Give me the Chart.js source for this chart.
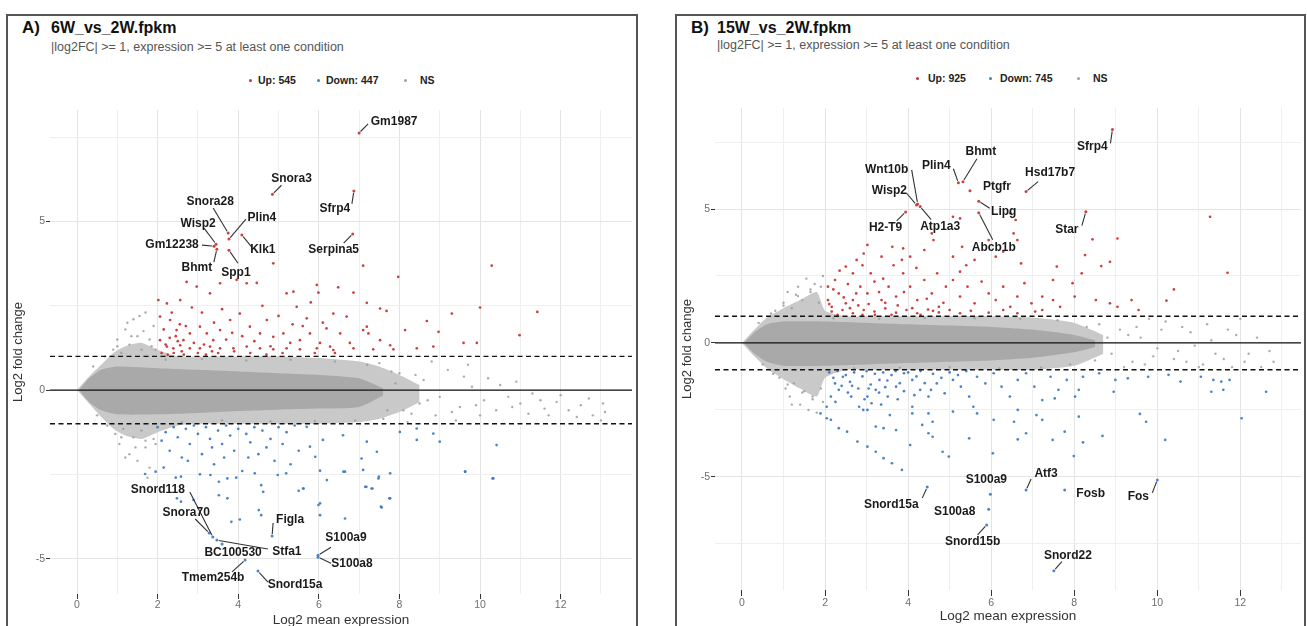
<!DOCTYPE html>
<html><head><meta charset="utf-8">
<script src="https://cdn.jsdelivr.net/npm/chart.js@4.4.1/dist/chart.umd.min.js"></script>
<style>
html,body{margin:0;padding:0;width:1307px;height:626px;overflow:hidden;background:#fff;font-family:"Liberation Sans",Arial,sans-serif;}
.panel{position:absolute;top:14px;height:700px;border:2px solid #555;box-sizing:border-box;}
.t{position:absolute;white-space:nowrap;color:#111;}
.tag{font-weight:bold;font-size:17px;line-height:17px;}
.ttl{font-weight:bold;font-size:16px;line-height:16px;}
.sub{font-size:12.5px;line-height:13px;color:#555;}
.lg{font-weight:bold;font-size:10.5px;line-height:11px;color:#222;}
.dot{position:absolute;width:3px;height:3px;border-radius:50%;}
canvas{position:absolute;}
</style></head><body>
<div class="panel" style="left:6px;width:632px"></div>
<div class="panel" style="left:675px;width:631px"></div>

<div class="t tag" style="left:22px;top:19px">A)</div>
<div class="t ttl" style="left:51px;top:20px">6W_vs_2W.fpkm</div>
<div class="t sub" style="left:51px;top:41px">|log2FC| &gt;= 1, expression &gt;= 5 at least one condition</div>
<div class="dot" style="left:249px;top:79px;background:#c83232"></div>
<div class="t lg" style="left:258px;top:75px">Up: 545</div>
<div class="dot" style="left:317px;top:79px;background:#417dc3"></div>
<div class="t lg" style="left:326px;top:75px">Down: 447</div>
<div class="dot" style="left:404px;top:79px;background:#a0a0a0"></div>
<div class="t lg" style="left:420px;top:75px">NS</div>

<div class="t tag" style="left:691px;top:19px">B)</div>
<div class="t ttl" style="left:717px;top:20px">15W_vs_2W.fpkm</div>
<div class="t sub" style="left:717px;top:39px">|log2FC| &gt;= 1, expression &gt;= 5 at least one condition</div>
<div class="dot" style="left:916px;top:77px;background:#c83232"></div>
<div class="t lg" style="left:928px;top:73px">Up: 925</div>
<div class="dot" style="left:989px;top:77px;background:#417dc3"></div>
<div class="t lg" style="left:1000px;top:73px">Down: 745</div>
<div class="dot" style="left:1077px;top:77px;background:#a0a0a0"></div>
<div class="t lg" style="left:1093px;top:73px">NS</div>

<canvas id="cA" width="628" height="546" style="left:8px;top:90px"></canvas>
<canvas id="cB" width="628" height="546" style="left:677px;top:90px"></canvas>

<script>
// ---------------- DATA: shared ----------------
const xTicks = [0,1,2,3,4,5,6,7,8,9,10,11,12,13];
const yTicks = [-7.5,-5,-2.5,0,2.5,5,7.5];
const thresholds = [1,-1];
const zeroLine = 0;

// ---------------- DATA: panel A (6W vs 2W) ----------------
const A_envX    = [0, 0.3, 0.6, 0.9, 1.2, 1.6, 2.0, 2.5, 3, 4, 5, 6, 7, 7.5, 8, 8.5];
const A_outerUp = [0, 0.4, 0.75, 1.1, 1.3, 1.4, 1.2, 1.0, 1.0, 1.0, 1.0, 0.95, 0.85, 0.7, 0.45, 0.15];
const A_outerLo = [0, -0.4, -0.8, -1.15, -1.35, -1.45, -1.25, -1.05, -1.0, -1.0, -1.0, -1.0, -0.95, -0.85, -0.65, -0.35];
const A_innerX  = [0.05, 0.3, 0.6, 1, 2, 3, 4, 5, 6, 7, 7.6];
const A_innerUp = [0, 0.35, 0.6, 0.7, 0.65, 0.6, 0.55, 0.5, 0.45, 0.35, 0.05];
const A_innerLo = [0, -0.35, -0.6, -0.72, -0.72, -0.68, -0.62, -0.58, -0.55, -0.5, -0.15];

const A_ns = [[0.9,1.2],[1.0,1.5],[1.1,1.1],[1.2,1.8],[1.3,1.35],[1.4,2.1],[1.5,1.6],[1.6,1.2],[1.7,2.3],[1.8,1.5],[1.9,1.9],[1.95,1.2],[1.25,2.0],[1.55,2.2],
 [0.95,-1.3],[1.05,-1.6],[1.15,-1.15],[1.3,-1.9],[1.4,-1.4],[1.5,-2.1],[1.6,-1.2],[1.7,-1.7],[1.8,-2.3],[1.9,-1.45],[1.2,-2.0],[1.75,-2.6],
 [7.5,0.8],[8.0,0.5],[8.3,-0.7],[8.6,0.3],[9.0,-0.2],[9.2,0.6],[9.5,-0.5],[9.8,0.1],[10.1,-0.3],[10.4,-0.6],[10.7,-0.2],[11.0,-0.4],[11.3,-0.1],[11.6,-0.55],[11.9,-0.35],[12.2,-0.6],[12.5,-0.45],[12.8,-0.75],[13.05,-0.4],[13.1,-0.65],[8.8,0.85],[9.7,0.75],[10.9,0.25],[8.2,-0.95],[9.4,-0.9],[7.9,0.2],[10.2,0.35],[7.7,-0.6],[8.5,-0.4],
 [2.2,0.9],[2.6,-0.95],[3.1,0.92],[3.6,-0.9],[4.2,0.88],[4.8,-0.93],[5.3,0.9],[5.9,-0.92],[6.4,0.85],[6.9,-0.9],[7.2,0.75],[7.6,-0.85],[7.8,0.55],[8.1,-0.6],[8.4,0.45],[8.7,-0.3],[9.3,-0.65],[9.6,0.4],[10.0,-0.75],[10.5,0.15],[10.8,-0.5],[11.2,-0.7],[11.5,-0.3],[12.0,-0.15],[12.4,-0.8],[12.7,-0.25],[13.0,-0.9],[8.9,-0.75],[9.9,-0.45],[11.7,-0.75],
 [0.4,0.7],[0.5,-0.75],[0.7,1.0],[0.75,-1.05],[1.0,1.3],[1.1,-1.4],[1.35,1.6],[1.45,-1.7],[1.65,1.75],[1.7,-1.5],[1.85,1.3],[1.95,-1.6]];

const A_up = [[7.10,3.69],[7.97,3.36],[10.29,3.69],[11.42,2.32],[10.0,2.45],[9.30,2.27],[10.98,1.63],[8.68,2.05],[8.14,1.78],[8.97,1.73],[9.92,1.40],[9.59,1.40],[5.95,3.12],[5.99,2.89],[6.48,3.05],[6.86,2.89],[7.19,2.59],[7.52,2.42],[7.68,2.35],[7.19,1.88],[7.10,1.78],[7.23,1.68],[7.52,1.48],[7.77,1.33],[6.69,2.18],[6.36,2.27],[6.19,1.83],[5.70,2.13],[5.45,2.47],[5.20,2.87],[5.37,2.92],[4.87,3.76],[4.46,3.18],[4.21,3.17],[3.96,3.27],[3.55,3.17],[3.30,2.87],[2.72,3.21],[2.97,3.07],[2.56,2.67],[2.23,2.57],[2.02,2.67],[2.06,2.18],[2.31,2.08],[2.47,1.78],[2.64,1.48],[2.80,1.68],[3.05,1.88],[3.22,1.68],[3.38,1.48],[3.55,1.78],[3.80,2.08],[4.04,2.27],[4.29,1.88],[4.54,1.68],[4.71,2.08],[4.87,1.58],[5.12,1.68],[5.29,1.40],[5.53,1.48],[5.78,1.68],[6.03,1.40],[6.28,1.29],[6.53,1.68],[6.77,1.40],[2.06,1.48],[2.23,1.29],[2.39,1.24],[2.56,1.33],[2.80,1.24],[3.05,1.24],[3.30,1.29],[3.55,1.24],[3.88,1.24],[4.21,1.29],[4.54,1.24],[4.87,1.21],[5.20,1.24],[5.53,1.21],[5.95,1.24],[6.36,1.19],[6.86,1.24],[7.35,1.21],[7.85,1.21],[8.43,1.24],[8.84,1.29],
 [2.1,1.1],[2.2,1.35],[2.3,1.55],[2.4,1.1],[2.5,1.45],[2.6,1.15],[2.7,1.9],[2.9,1.4],[3.0,1.1],[3.1,2.3],[3.2,1.05],[3.4,2.0],[3.5,1.1],[3.7,1.5],[3.9,1.15],[4.1,1.6],[4.3,1.1],[4.6,2.5],[4.8,1.3],[5.0,2.2],[5.1,1.1],[5.6,1.9],[5.8,2.6],[6.1,2.0],[6.4,1.1],[2.15,1.8],[2.35,2.3],[2.55,1.95],[2.25,1.05],[2.45,1.6],[2.65,1.05],[2.85,2.45],[3.15,1.35],[3.35,1.15],[3.6,2.4],[3.85,1.7],[4.4,1.45],[4.7,1.05],[5.35,1.95],[5.9,1.1]];

const A_down = [[5.70,-1.09],[6.1,-1.48],[6.6,-1.34],[7.19,-1.53],[7.44,-1.83],[8.01,-1.24],[8.43,-1.48],[9.0,-1.53],[10.41,-1.63],[9.63,-2.42],[10.33,-2.62],[7.77,-2.47],[7.1,-2.37],[6.61,-2.42],[7.06,-2.03],[7.48,-2.62],[7.31,-2.92],[7.15,-2.87],[7.77,-3.21],[7.56,-3.48],[5.99,-3.41],[6.2,-2.67],[5.62,-2.92],[5.78,-1.68],[5.91,-1.98],[8.84,-1.29],[8.43,-1.14],
 [1.69,-2.49],[1.95,-2.42],[2.58,-2.57],[3.31,-2.52],[3.73,-2.62],[4.57,-2.82],[4.41,-2.47],[5.19,-2.47],[3.52,-3.12],[3.73,-3.21],[5.61,-2.92],[5.5,-2.99],[4.51,-3.56],[4.62,-3.02],[3.83,-3.91],[4.04,-3.84],[4.57,-3.71],[6.03,-3.36],[6.03,-3.71],[6.65,-3.81],[7.18,-2.87],[7.33,-2.92],[7.54,-3.46],[7.75,-3.21],[10.31,-2.62],[9.63,-2.42],[6.65,-2.42],[7.49,-2.57],[6.03,-2.39],[4.98,-2.52],[3.52,-2.72],[2.89,-3.26],[2.48,-3.21],[2.58,-3.31],
 [2.0,-1.1],[2.1,-1.5],[2.2,-1.25],[2.3,-1.8],[2.4,-1.1],[2.5,-1.4],[2.6,-2.0],[2.7,-1.15],[2.8,-1.6],[2.9,-1.05],[3.0,-1.3],[3.1,-1.9],[3.2,-1.1],[3.3,-1.45],[3.4,-2.2],[3.5,-1.2],[3.6,-1.6],[3.7,-1.05],[3.8,-1.35],[3.9,-1.8],[4.0,-1.15],[4.1,-2.4],[4.2,-1.3],[4.3,-1.55],[4.4,-1.1],[4.5,-1.9],[4.6,-1.2],[4.8,-1.45],[4.9,-2.1],[5.0,-1.1],[5.1,-1.6],[5.2,-1.25],[5.4,-1.05],[5.5,-1.8],[2.15,-2.3],[2.45,-2.6],[2.75,-2.1],[3.05,-2.5],[3.35,-1.7],[3.65,-2.0],[3.95,-2.6],[4.25,-2.0],[4.7,-1.7],[5.3,-2.2]];

const A_geneNames = ['Gm1987','Snora3','Sfrp4','Serpina5','Snora28','Plin4','Wisp2','Gm12238','Klk1','Bhmt','Spp1','Snord118','Snora70','Stfa1','BC100530','Tmem254b','Figla','S100a9','S100a8','Snord15a'];
const A_geneX = [7.00,4.85,6.87,6.84,3.75,3.77,3.45,3.40,4.09,3.47,3.77,3.37,3.28,3.47,3.60,4.17,4.84,5.98,5.98,4.49];
const A_geneY = [7.63,5.81,5.91,4.63,4.66,4.48,4.33,4.27,4.60,4.18,4.15,-4.36,-4.24,-4.45,-4.57,-5.04,-4.33,-4.90,-4.96,-5.37];

// ---------------- DATA: panel B (15W vs 2W) ----------------
const B_envX    = [0, 0.3, 0.6, 1.0, 1.4, 1.8, 2.0, 2.5, 3, 4, 5, 6, 7, 8, 8.7];
const B_outerUp = [0, 0.5, 0.95, 1.3, 1.6, 1.9, 1.2, 1.0, 1.0, 1.0, 1.0, 1.0, 0.95, 0.75, 0.3];
const B_outerLo = [0, -0.5, -0.95, -1.35, -1.7, -2.0, -1.3, -1.0, -1.0, -1.0, -1.0, -1.0, -1.0, -0.85, -0.4];
const B_innerX  = [0.05, 0.3, 0.6, 1, 2, 3, 4, 5, 6, 7, 8, 8.5];
const B_innerUp = [0, 0.4, 0.7, 0.8, 0.8, 0.75, 0.7, 0.65, 0.6, 0.5, 0.3, 0.1];
const B_innerLo = [0, -0.4, -0.7, -0.85, -0.85, -0.8, -0.75, -0.7, -0.65, -0.55, -0.35, -0.15];

const B_ns = [[0.8,1.2],[1.0,1.5],[1.1,1.9],[1.2,1.3],[1.35,2.1],[1.45,1.6],[1.55,2.4],[1.65,1.9],[1.75,2.2],[1.85,1.5],[1.95,2.5],[1.3,1.8],[1.9,2.1],
 [0.9,-1.3],[1.05,-1.7],[1.15,-2.0],[1.25,-1.5],[1.4,-2.3],[1.5,-1.8],[1.6,-2.5],[1.7,-2.0],[1.8,-2.6],[1.9,-1.7],[1.2,-2.3],[1.95,-2.2],
 [8.6,0.7],[8.9,-0.4],[9.1,0.5],[9.4,-0.7],[9.6,0.2],[9.9,-0.5],[10.2,0.8],[10.5,-0.3],[10.8,0.4],[11.1,-0.8],[11.3,0.1],[11.6,-0.6],[11.9,0.3],[12.2,-0.4],[12.5,-0.9],[12.8,-0.7],[9.8,0.9],[10.6,0.6],[11.8,-0.9],[11.2,0.7],[12.0,0.9],[9.2,-0.9],[10.0,-0.2],
 [0.4,0.75],[0.5,-0.8],[0.7,1.1],[0.75,-1.15],[1.0,1.4],[1.1,-1.55],[1.35,1.75],[1.45,-1.85],[1.65,2.0],[1.7,-2.1],[2.2,0.92],[2.7,-0.95],[3.3,0.9],[3.8,-0.92],[4.4,0.93],[5.0,-0.9],[5.6,0.92],[6.2,-0.95],[6.7,0.9],[7.2,-0.92],[7.6,0.85],[7.9,-0.8],[8.3,0.6],[8.5,-0.65],[8.8,0.2],[9.3,0.3],[9.7,-0.8],[10.1,0.5],[10.4,-0.6],[10.9,-0.1],[11.4,-0.4],[11.7,0.5],[12.1,-0.7],[12.4,0.2],[12.7,-0.3],[11.0,-0.9],[10.7,-0.7],[9.5,0.6]];

const B_up = [[11.27,4.71],[11.69,2.62],[10.40,2.0],[10.22,1.58],[9.04,3.90],[8.44,3.87],[8.26,3.28],[8.86,3.03],[8.65,2.87],[7.96,2.23],[8.18,2.60],[7.58,2.85],[7.49,2.35],[7.23,1.73],[6.63,3.84],[6.54,4.09],[6.59,4.59],[6.72,2.97],[6.29,3.41],[6.11,3.22],[5.94,3.84],[5.60,3.10],[5.30,3.59],[5.08,3.22],[5.25,2.66],[4.61,3.84],[4.39,3.47],[4.05,3.22],[3.88,3.53],[3.62,3.59],[3.36,3.22],[3.02,3.66],[2.93,3.34],[2.76,3.10],[2.67,2.60],[2.50,2.85],[2.24,2.35],[2.07,2.10],[2.07,1.60],[2.16,1.35],[2.33,1.85],[2.50,1.48],[2.67,1.60],[2.85,2.10],[3.02,1.85],[3.19,2.29],[3.36,1.60],[3.53,2.10],[3.71,1.73],[3.88,2.60],[4.05,2.10],[4.22,1.60],[4.39,2.35],[4.57,1.85],[4.74,1.35],[4.91,2.10],[5.08,2.35],[5.25,1.73],[5.43,2.10],[5.60,1.48],[5.77,2.29],[5.94,1.85],[6.11,1.60],[6.29,2.10],[6.46,1.35],[6.63,1.73],[6.80,2.23],[6.97,1.48],[7.23,1.23],[7.49,1.60],[7.66,1.35],[8.01,1.73],[8.52,1.60],[8.86,1.48],[9.04,1.35],[9.38,1.60],[9.55,1.23],[5.25,4.65],[5.08,4.71],[4.57,4.09],[6.46,4.84],[2.16,1.17],[2.42,1.23],[2.67,1.11],[2.93,1.23],[3.19,1.17],[3.45,1.29],[3.71,1.13],[3.96,1.23],[4.22,1.11],[4.48,1.25],[4.74,1.14],[5.0,1.23],[5.25,1.11],[5.51,1.20],[5.94,1.13],[6.29,1.23],[6.63,1.11],[7.06,1.17],
 [2.1,1.45],[2.3,1.05],[2.45,1.7],[2.6,1.3],[2.75,1.85],[2.9,1.05],[3.05,1.45],[3.2,1.05],[3.3,1.9],[3.45,1.5],[3.6,1.05],[3.75,1.4],[3.9,1.9],[4.1,1.3],[4.3,1.05],[4.45,1.65],[4.6,1.2],[4.85,1.5],[2.2,2.0],[2.55,2.2],[2.8,1.4],[3.1,2.6],[3.4,2.4],[3.65,2.9],[4.2,2.8],[4.7,2.6],[5.4,2.9],[2.35,2.7],[2.9,2.9],[3.85,3.1]];

const B_down = [[1.89,-2.63],[2.04,-2.81],[2.14,-2.87],[2.33,-3.18],[2.53,-3.31],[2.78,-3.68],[3.02,-3.87],[3.22,-4.06],[3.41,-4.30],[3.61,-4.49],[3.85,-4.74],[2.04,-2.38],[2.14,-2.00],[2.24,-1.51],[2.33,-1.75],[2.43,-1.26],[2.63,-2.00],[2.82,-2.38],[3.02,-2.50],[3.12,-2.25],[3.22,-1.75],[3.31,-1.38],[3.51,-2.00],[3.71,-1.63],[3.90,-1.13],[4.10,-1.38],[4.29,-1.75],[4.49,-2.00],[4.69,-1.51],[4.88,-1.88],[5.08,-1.38],[5.27,-1.63],[5.47,-2.00],[5.66,-1.26],[5.86,-1.51],[6.06,-1.13],[6.25,-1.63],[6.45,-2.00],[6.64,-1.38],[6.84,-1.13],[7.04,-1.63],[7.23,-2.13],[7.43,-1.26],[7.62,-1.75],[7.82,-1.38],[8.02,-2.00],[8.21,-1.26],[8.60,-1.13],[8.99,-1.38],[9.29,-1.32],[9.78,-1.26],[10.27,-1.19],[10.56,-1.44],[11.05,-1.26],[11.35,-1.38],[11.54,-1.44],[11.74,-1.38],[12.62,-1.82],[11.30,-1.82],[11.59,-1.75],[12.03,-2.81],[10.19,-3.62],[9.58,-2.65],[9.73,-2.94],[8.68,-3.47],[8.21,-3.71],[7.99,-4.22],[7.77,-3.31],[7.48,-3.62],[6.84,-3.37],[6.64,-3.60],[6.55,-2.94],[6.06,-2.87],[6.04,-4.12],[5.47,-3.56],[4.98,-4.24],[4.83,-4.06],[4.59,-3.50],[4.34,-3.06],[4.59,-2.94],[4.05,-3.81],[3.71,-3.25],[3.41,-3.18],[3.22,-3.12],[2.92,-2.50],[4.49,-3.37],[7.23,-2.87],[7.09,-2.69],[8.11,-2.75],[8.95,-1.82],[8.11,-1.75],[7.53,-2.07],[6.64,-2.50],[5.66,-2.63],[5.08,-2.56],[4.10,-2.63],[3.56,-2.69],[3.02,-2.00],[4.10,-2.38],[5.57,-2.38],[4.49,-2.63],
 [2.1,-1.1],[2.2,-1.3],[2.3,-1.05],[2.4,-1.6],[2.5,-1.2],[2.6,-1.45],[2.7,-1.1],[2.8,-1.7],[2.9,-1.25],[3.0,-1.05],[3.1,-1.55],[3.2,-1.15],[3.3,-1.85],[3.4,-1.1],[3.5,-1.4],[3.6,-1.2],[3.7,-1.05],[3.8,-1.5],[3.9,-1.8],[4.0,-1.1],[4.2,-1.25],[4.3,-1.05],[4.4,-1.5],[4.6,-1.15],[4.8,-1.3],[5.0,-1.1],[5.2,-1.2],[5.4,-1.05],[2.55,-1.85],[2.95,-2.1],[3.35,-2.3],[3.75,-2.1],[4.15,-1.95],[4.55,-1.75],[2.25,-2.2],[2.65,-1.6],[3.05,-1.7],[3.45,-1.65]];

const B_geneNames = ['Sfrp4','Bhmt','Plin4','Wnt10b','Wisp2','Ptgfr','Hsd17b7','Lipg','Abcb1b','Atp1a3','H2-T9','Star','S100a9','S100a8','Atf3','Fosb','Fos','Snord15a','Snord15b','Snord22'];
const B_geneX = [8.92,5.32,5.21,4.23,4.20,5.49,6.84,5.70,5.70,4.29,3.94,8.28,5.98,5.94,6.84,7.77,10.0,4.46,5.89,7.51];
const B_geneY = [7.97,6.02,5.98,5.19,5.15,5.68,5.65,5.29,4.86,5.09,4.89,4.90,-5.65,-6.21,-5.49,-5.49,-5.11,-5.38,-6.79,-8.50];

// ---------------- LAYOUT (pixel offsets of repelled labels: [labelDx,labelDy,lineEndDx,lineEndDy]) ----------------
const A_labelLayout = [[35,-11,9,-9],[19,-16,9,-9],[-19,18,-2,13],[-19,16,-9,9],[-18,-31,-15,-25],[33,-21,17,-20],[-18,-20,-12,-16],[-42,-1,-12,-1],[21,15,10,12],[-20,18,-3,13],[7,22,9,13],
 [-55,-47,-23,-45],[-23,-20,-14,-14],[70,12,51,9],[11,9,null,null],[-32,18,-13,12],[18,-16,1,-13],[28,-18,13,-8],[34,6,13,6],[37,14,10,11]];
const B_labelLayout = [[-20,17,-2,14],[18,-30,14,-23],[-22,-17,-5,-14],[-31,-34,-6,-34],[-27,-14,-10,-12],[27,-4,null,null],[24,-19,12,-10],[25,10,11,7],[15,35,14,27],[20,20,11,13],[-20,16,-9,9],[-19,18,-4,14],
 [-4,-15,null,null],[-34,2,null,null],[20,-16,5,-11],[26,4,null,null],[-19,17,-5,13],[-36,18,-5,11],[-14,17,-9,10],[14,-15,8,-9]];

const RED = 'rgba(200,48,48,0.92)', BLUE = 'rgba(62,122,196,0.92)', GRAY = 'rgba(158,158,158,0.85)';
const FONT = '"Liberation Sans", Arial, sans-serif';

function makeChart(id, P, L) {
  const pts = a => a.map(p => ({x: p[0], y: p[1]}));
  const band = (xs, ys, color, fill, order) => ({type: 'line', data: xs.map((x, i) => ({x, y: ys[i]})), showLine: true,
    borderWidth: 0, borderColor: 'rgba(0,0,0,0)', backgroundColor: color, pointRadius: 0, fill, tension: 0.2, order});
  const scat = (data, color, r, order) => ({type: 'scatter', data: pts(data), pointRadius: r, pointBackgroundColor: color,
    backgroundColor: color, pointBorderWidth: 0, borderWidth: 0, showLine: false, order});
  const geneColors = P.geneY.map(v => v > 0 ? RED : BLUE);
  const datasets = [
    band(P.envX, P.outerUp, '#c9c9c9', '+1', 20),
    band(P.envX, P.outerLo, '#c9c9c9', false, 19),
    band(P.innerX, P.innerUp, '#a9a9a9', '+1', 18),
    band(P.innerX, P.innerLo, '#a9a9a9', false, 17),
    scat(P.ns, GRAY, 1.2, 10),
    scat(P.up, RED, 1.35, 5),
    scat(P.down, BLUE, 1.35, 5),
    {type: 'scatter', data: P.geneX.map((x, i) => ({x, y: P.geneY[i]})), pointRadius: 1.5, pointBackgroundColor: geneColors,
      pointBorderWidth: 0, showLine: false, order: 1}
  ];
  const overlay = {
    id: 'overlay_' + id,
    afterDatasetsDraw(chart) {
      const {ctx, chartArea: ca, scales: {x, y}} = chart;
      ctx.save();
      ctx.beginPath(); ctx.rect(ca.left, ca.top, ca.right - ca.left, ca.bottom - ca.top); ctx.clip();
      ctx.strokeStyle = '#111'; ctx.lineWidth = 1.3;
      const y0 = y.getPixelForValue(zeroLine);
      ctx.beginPath(); ctx.moveTo(ca.left, y0); ctx.lineTo(ca.right, y0); ctx.stroke();
      ctx.setLineDash([5, 3.5]); ctx.lineWidth = 1.4;
      thresholds.forEach(t => { const yy = y.getPixelForValue(t); ctx.beginPath(); ctx.moveTo(ca.left, yy); ctx.lineTo(ca.right, yy); ctx.stroke(); });
      ctx.restore();
      ctx.save();
      ctx.font = 'bold 12px ' + FONT; ctx.textAlign = 'center'; ctx.textBaseline = 'middle';
      ctx.strokeStyle = '#333'; ctx.lineWidth = 1.1; ctx.fillStyle = '#1a1a1a';
      P.geneNames.forEach((n, i) => {
        const px = x.getPixelForValue(P.geneX[i]), py = y.getPixelForValue(P.geneY[i]);
        const lay = L[i];
        if (lay[2] !== null) {
          const ex = px + lay[2], ey = py + lay[3];
          const d = Math.hypot(lay[2], lay[3]) || 1;
          ctx.beginPath(); ctx.moveTo(px + lay[2] / d * 2, py + lay[3] / d * 2); ctx.lineTo(ex, ey); ctx.stroke();
        }
        ctx.fillText(n, px + lay[0], py + lay[1]);
      });
      ctx.restore();
    }
  };
  const isMajorX = v => v % 2 === 0;
  const isMajorY = v => v % 5 === 0;
  return new Chart(document.getElementById(id), {
    type: 'scatter',
    data: {datasets},
    plugins: [overlay],
    options: {
      responsive: false, animation: false, events: [],
      layout: {padding: {top: P.padTop, right: P.padRight, left: 0, bottom: 0}},
      plugins: {legend: {display: false}, tooltip: {enabled: false}},
      scales: {
        x: {
          type: 'linear', min: P.xMin, max: P.xMax,
          afterBuildTicks: s => { s.ticks = xTicks.map(v => ({value: v})); },
          afterFit: s => { s.height = P.xAxisH; },
          grid: {color: c => (c.tick && isMajorX(c.tick.value)) ? '#e4e4e4' : '#efefef', lineWidth: 1,
            tickColor: c => (c.tick && isMajorX(c.tick.value)) ? '#333' : 'rgba(0,0,0,0)', tickLength: P.xTickLen, drawTicks: true},
          border: {display: false},
          ticks: {autoSkip: false, maxRotation: 0, padding: P.xTickPad, color: '#6e6e6e', font: {size: 10.5, family: FONT},
            callback: v => isMajorX(v) ? String(v) : ''},
          title: {display: true, text: 'Log2 mean expression', color: '#333', font: {size: 13.5, family: FONT}, padding: {top: 0, bottom: P.xTitlePad}}
        },
        y: {
          type: 'linear', min: P.yMin, max: P.yMax,
          afterBuildTicks: s => { s.ticks = yTicks.filter(v => v >= P.yMin && v <= P.yMax).map(v => ({value: v})); },
          afterFit: s => { s.width = P.yAxisW; },
          grid: {color: c => (c.tick && isMajorY(c.tick.value)) ? '#e4e4e4' : '#efefef', lineWidth: 1,
            tickColor: c => (c.tick && isMajorY(c.tick.value)) ? '#333' : 'rgba(0,0,0,0)', tickLength: 4, drawTicks: true},
          border: {display: false},
          ticks: {autoSkip: false, padding: 1, color: '#6e6e6e', font: {size: 10.5, family: FONT},
            callback: v => isMajorY(v) ? String(v) : ''},
          title: {display: true, text: 'Log2 fold change', color: '#333', font: {size: 13, family: FONT}, padding: {top: 3, bottom: 0}}
        }
      }
    }
  });
}

makeChart('cA', {
  envX: A_envX, outerUp: A_outerUp, outerLo: A_outerLo, innerX: A_innerX, innerUp: A_innerUp, innerLo: A_innerLo,
  ns: A_ns, up: A_up, down: A_down, geneNames: A_geneNames, geneX: A_geneX, geneY: A_geneY,
  xMin: -0.67, xMax: 13.77, yMin: -6.05, yMax: 8.31,
  padTop: 20, padRight: 4, yAxisW: 42, xAxisH: 42, xTickLen: 5, xTickPad: 0, xTitlePad: 8
}, A_labelLayout);

makeChart('cB', {
  envX: B_envX, outerUp: B_outerUp, outerLo: B_outerLo, innerX: B_innerX, innerUp: B_innerUp, innerLo: B_innerLo,
  ns: B_ns, up: B_up, down: B_down, geneNames: B_geneNames, geneX: B_geneX, geneY: B_geneY,
  xMin: -0.65, xMax: 13.46, yMin: -9.22, yMax: 8.77,
  padTop: 18, padRight: 3, yAxisW: 38, xAxisH: 46, xTickLen: 6, xTickPad: 1, xTitlePad: 12
}, B_labelLayout);
</script>
</body></html>
